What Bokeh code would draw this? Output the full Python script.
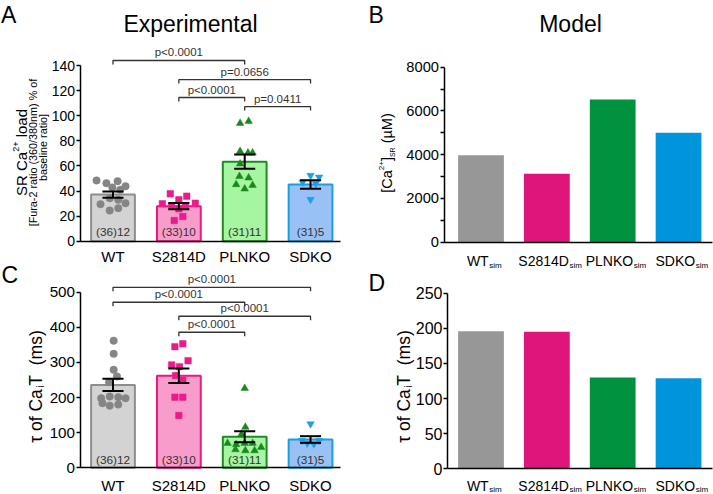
import math
from bokeh.plotting import figure
from bokeh.models import FixedTicker, Range1d, ColumnDataSource, LinearAxis
from bokeh.layouts import row
from bokeh.embed import file_html
from bokeh.resources import INLINE
from bokeh.core.properties import value

FONT = "Liberation Sans"

# ---------------- data ----------------
groups = ["WT", "S2814D", "PLNKO", "SDKO"]
sim_suffix = "sim"
n_labels = ["(36)12", "(33)10", "(31)11", "(31)5"]

# Panel A: SR Ca2+ load (% of baseline ratio), mean +/- SEM and cells
load_mean = [37.2, 27.9, 63.4, 45.2]
load_sem = [2.5, 2.5, 5.7, 3.4]
wt_load = [48.4, 46.2, 47.8, 43.8, 42.8, 41.0, 29.5, 34.3, 33.0, 30.3, 24.5, 26.3]
wt_load_jit = [-0.25, -0.10, 0.07, 0.19, -0.01, 0.11, -0.19, -0.05, 0.08, 0.19, -0.05, 0.08]
s2814d_load = [37.8, 35.9, 33.0, 29.8, 30.3, 27.9, 27.9, 16.5, 19.7, 25.8]
s2814d_load_jit = [-0.13, 0.12, 0.0, -0.25, 0.25, -0.11, 0.10, -0.07, 0.06, 0.0]
plnko_load = [94.0, 95.6, 71.7, 70.4, 70.4, 61.7, 51.6, 50.5, 45.2, 41.7, 44.6]
plnko_load_jit = [-0.07, 0.06, -0.07, 0.05, 0.12, -0.07, -0.08, 0.06, -0.13, 0.0, 0.12]
sdko_load = [52.4, 51.0, 47.0, 46.0, 33.2]
sdko_load_jit = [0.0, 0.13, -0.12, 0.08, 0.0]

# Panel C: tau of CaiT (ms)
tau_mean = [236.0, 262.0, 88.5, 80.5]
tau_sem = [17.5, 20.5, 15.5, 9.5]
wt_tau = [362, 324.5, 279, 260, 243.7, 198, 203, 201, 198, 184, 177, 180]
wt_tau_jit = [0.01, 0.01, 0.01, 0.06, -0.06, -0.18, -0.05, 0.08, 0.19, -0.16, -0.05, 0.08]
s2814d_tau = [345, 353, 293, 288, 305, 201, 201, 149, 263, 249]
s2814d_tau_jit = [-0.06, 0.06, -0.11, 0.01, 0.14, -0.06, 0.06, 0.0, -0.05, 0.06]
plnko_tau = [226.6, 115.6, 70, 66.4, 70, 70, 58.6, 52, 49, 49, 95]
plnko_tau_jit = [0.0, 0.01, -0.26, -0.13, 0.0, 0.12, 0.25, -0.14, 0.01, 0.15, -0.05]
sdko_tau = [125, 77.7, 77.7, 70, 68]
sdko_tau_jit = [0.0, -0.13, 0.13, -0.05, 0.05]

# Panels B and D: model
model_load = [3980, 3130, 6520, 5000]
model_tau = [196, 195, 130, 129]

# significance brackets
load_pairs = [(0, 2), (1, 3), (1, 2), (2, 3)]
load_bracket_y = [144.0, 128.8, 114.5, 107.3]
load_p = ["p<0.0001", "p=0.0656", "p<0.0001", "p=0.0411"]
tau_pairs = [(0, 3), (0, 2), (1, 3), (1, 2)]
tau_bracket_y = [514.0, 471.4, 431.5, 386.0]
tau_p = ["p<0.0001", "p<0.0001", "p<0.0001", "p<0.0001"]

load_ticks = [0, 20, 40, 60, 80, 100, 120, 140]
tau_ticks = [0, 100, 200, 300, 400, 500]
model_load_ticks = [0, 2000, 4000, 6000, 8000]
model_load_minor = [1000, 3000, 5000, 7000]
model_tau_ticks = [0, 50, 100, 150, 200, 250]

# ---------------- styles ----------------
exp_fill = ["#d3d3d3", "#f89dcb", "#a6f5a0", "#99c1f6"]
exp_line = ["#8e8e8e", "#e8197f", "#1d8a24", "#1a9ee0"]
pt_color = ["#858585", "#ec1a8a", "#17891d", "#1aa0e6"]
markers = ["circle", "square", "triangle", "inverted_triangle"]
msizes = [7.5, 6.5, 7.5, 7.5]
model_color = ["#979797", "#e0157c", "#00923f", "#0094dc"]

H = 494
WL, WR = 360, 353

W = {' ': .278, '[': .278, ']': .278, '(': .333, ')': .333, '/': .278, '%': .889, '-': .333,
     '.': .278, '<': .584, '=': .584, '+': .584, 'a': .556, 'b': .556, 'd': .556, 'e': .556,
     'f': .278, 'i': .222, 'l': .222, 'm': .833, 'n': .556, 'o': .556, 'p': .556, 'r': .333,
     's': .5, 't': .278, 'u': .556, 'C': .722, 'D': .722, 'F': .611, 'K': .667, 'L': .556,
     'M': .833, 'N': .722, 'O': .778, 'P': .667, 'R': .722, 'S': .667, 'T': .611, 'W': .944,
     'µ': .576, 'τ': .47}


def text_w(s, size):
    return sum(W.get(ch, .556) for ch in s) * size


class Col:
    """One figure per column: top panel on the default y range, bottom panel on 'bot'."""

    def __init__(self, w, ox, cat0, step, top_spec, bot_spec):
        self.ox, self.step = ox, step
        self.c0 = cat0 - ox
        self.spec = {"default": top_spec, "bot": bot_spec}
        bt, pt = top_spec
        bb, pb = bot_spec
        p = figure(width=w, height=H,
                   x_range=Range1d(-self.c0 / step, (w - self.c0) / step),
                   y_range=Range1d((bt - H) / pt, bt / pt),
                   output_backend="svg", toolbar_location=None,
                   min_border_left=0, min_border_right=0, min_border_top=0,
                   min_border_bottom=0)
        p.extra_y_ranges = {"bot": Range1d((bb - H) / pb, bb / pb)}
        p.grid.visible = False
        p.outline_line_color = None
        p.background_fill_color = "white"
        p.border_fill_color = "white"
        self.p = p

    def xd(self, rx):
        return (rx - self.ox - self.c0) / self.step

    def yd(self, ry, rng="default"):
        b, ppu = self.spec[rng]
        return (b - ry) / ppu

    def ppu(self, rng):
        return self.spec[rng][1]

    def text(self, rx, ry, t, size, align="left", angle=0.0, color="black"):
        # ry is the visual centre of the text
        self.p.text(x=[self.xd(rx)], y=[self.yd(ry)], text=[t], angle=angle,
                    text_align=align, text_baseline="middle", text_font=value(FONT),
                    text_font_size=value(f"{size}px"), text_color=color)

    def vlabel(self, rx, ry, pieces):
        total = sum(text_w(t, s) for t, s, _ in pieces)
        y = ry + total / 2
        for t, s, sh in pieces:
            lead = t[:len(t) - len(t.lstrip())]
            y -= text_w(lead, s)
            self.text(rx + sh, y, t.strip(), s, align="left", angle=math.pi / 2)
            y -= text_w(t.lstrip(), s)

    def sim_labels(self, names, ry, msize, ssize, drop, shift):
        for i, nm in enumerate(names):
            wm, ws = text_w(nm, msize), text_w(sim_suffix, ssize)
            split = self.ox + self.c0 + i * self.step + shift + (wm - ws) / 2
            self.text(split, ry, nm, msize, align="right")
            self.text(split + 0.5, ry + drop, sim_suffix, ssize, align="left")

    def axes(self, rng, axis_x, right_x, yticks, ysize, minor=None, xlabels=None,
             xsize=15, standoff=7):
        p = self.p
        if rng == "default":
            yax, xax = p.yaxis[0], p.xaxis[0]
        else:
            yax = LinearAxis(y_range_name=rng)
            xax = LinearAxis(y_range_name=rng)
            p.add_layout(yax, "left")
            p.add_layout(xax, "below")
        xl, xr = self.xd(axis_x), self.xd(right_x)
        for ax in (xax, yax):
            ax.axis_line_width = 1.5
            ax.axis_line_color = "black"
            ax.major_tick_line_width = 1.5
            ax.major_tick_line_color = "black"
            ax.major_label_text_font = FONT
            ax.major_label_text_color = "black"
            ax.minor_tick_line_color = None
            ax.axis_label = None
        yax.fixed_location = xl
        yax.ticker = FixedTicker(ticks=yticks, minor_ticks=minor or [])
        yax.bounds = (yticks[0], yticks[-1])
        yax.major_tick_out = 4
        yax.major_tick_in = 0
        yax.major_label_standoff = 1
        yax.major_label_text_font_size = f"{ysize}px"
        if minor:
            yax.minor_tick_line_color = "black"
            yax.minor_tick_line_width = 1.5
            yax.minor_tick_out = 4
            yax.minor_tick_in = 0
        xax.fixed_location = 0
        xax.bounds = (xl, xr)
        xax.major_tick_out = 0
        xax.major_tick_in = 0
        xax.major_tick_line_color = None
        if xlabels:
            xax.ticker = FixedTicker(ticks=list(range(len(xlabels))))
            xax.major_label_overrides = {i: s for i, s in enumerate(xlabels)}
            xax.major_label_standoff = standoff
            xax.major_label_text_font_size = f"{xsize}px"
        else:
            xax.ticker = FixedTicker(ticks=[])


def exp_panel(col, rng, means, sems, pts, jits, pairs, by, ptxt, count_y):
    p = col.p
    kw = dict(y_range_name=rng)
    cats = list(range(len(groups)))
    src = ColumnDataSource(dict(x=cats, top=means, fill=exp_fill, line=exp_line))
    p.vbar(x="x", top="top", bottom=0, width=0.665, fill_color="fill", line_color="line",
           line_width=2, source=src, **kw)
    for i, (vals, jit) in enumerate(zip(pts, jits)):
        p.scatter(x=[i + j for j in jit], y=vals, marker=markers[i], size=msizes[i],
                  fill_color=pt_color[i], line_color=pt_color[i], line_width=0.5, **kw)
    lo = [m - s for m, s in zip(means, sems)]
    hi = [m + s for m, s in zip(means, sems)]
    cap = 0.16
    p.segment(x0=cats, y0=lo, x1=cats, y1=hi, line_color="black", line_width=2, **kw)
    p.segment(x0=[c - cap for c in cats], y0=lo, x1=[c + cap for c in cats], y1=lo,
              line_color="black", line_width=2, **kw)
    p.segment(x0=[c - cap for c in cats], y0=hi, x1=[c + cap for c in cats], y1=hi,
              line_color="black", line_width=2, **kw)
    p.text(x=cats, y=[count_y] * len(cats), text=n_labels, text_align="center",
           text_baseline="middle", text_font=value(FONT), text_font_size=value("11.8px"),
           text_color="#333333", **kw)
    ppu = col.ppu(rng)
    d = 4 / ppu
    xs = [[a, a, b, b] for a, b in pairs]
    ys = [[h - d, h, h, h - d] for h in by]
    p.multi_line(xs=xs, ys=ys, line_color="#333333", line_width=1.3, **kw)
    g = 8 / ppu
    p.text(x=[(a + b) / 2 for a, b in pairs], y=[h + g for h in by], text=ptxt,
           text_align="center", text_baseline="middle", text_font=value(FONT),
           text_font_size=value("11.5px"), text_color="#333333", **kw)


# ---------------- left column: A (top) and C (bottom) ----------------
left = Col(WL, 0, 112.5, 65.85, (240.7, 175.7 / 140), (467.3, 175.6 / 500))
left.axes("default", 79.5, 340, load_ticks, 14, xlabels=groups, xsize=15, standoff=7)
left.axes("bot", 79.5, 340, tau_ticks, 15.2, xlabels=groups, xsize=15, standoff=9)
exp_panel(left, "default", load_mean, load_sem,
          [wt_load, s2814d_load, plnko_load, sdko_load],
          [wt_load_jit, s2814d_load_jit, plnko_load_jit, sdko_load_jit],
          load_pairs, load_bracket_y, load_p, 7.0)
exp_panel(left, "bot", tau_mean, tau_sem,
          [wt_tau, s2814d_tau, plnko_tau, sdko_tau],
          [wt_tau_jit, s2814d_tau_jit, plnko_tau_jit, sdko_tau_jit],
          tau_pairs, tau_bracket_y, tau_p, 21.0)
left.text(0.5, 14.2, "A", 23)
left.text(190, 23.5, "Experimental", 23, align="center")
left.vlabel(21, 152, [("SR Ca", 15, 0), ("2+", 9, -6), (" load", 15, 0)])
left.vlabel(32.5, 152, [("[Fura-2 ratio (360/380nm) % of", 10.8, 0)])
left.vlabel(42.5, 147, [("baseline ratio]", 10.8, 0)])
left.text(1, 274.5, "C", 23)
left.vlabel(35, 386, [("τ of Ca", 17.5, 0), ("i", 10, 5), ("T", 17.5, 0), ("  (ms)", 17.5, 0)])

# ---------------- right column: B (top) and D (bottom) ----------------
right = Col(WR, 360, 480.5, 65.85, (241.7, 175.0 / 8000), (468.3, 175.6 / 250))
right.axes("default", 443.5, 711.5, model_load_ticks, 14.7, minor=model_load_minor)
right.axes("bot", 447.0, 711.5, model_tau_ticks, 16)
cats = list(range(len(groups)))
right.p.vbar(x=cats, top=model_load, bottom=0, width=0.695, fill_color=model_color,
             line_color=None)
right.p.vbar(x=cats, top=model_tau, bottom=0, width=0.695, fill_color=model_color,
             line_color=None, y_range_name="bot")
right.text(368, 14.2, "B", 23)
right.text(570, 23.5, "Model", 23, align="center")
right.vlabel(386.7, 152.5, [("[Ca", 14.5, 0), ("2+", 8, -6), ("]", 14.5, 0), ("SR", 7, 5),
                            (" (µM)", 14.5, 0)])
right.sim_labels(groups, 260.5, 14, 8, 4, 3)
right.text(368, 282.5, "D", 23)
right.vlabel(403.3, 386, [("τ of Ca", 17.5, 0), ("i", 10, 5), ("T", 17.5, 0), ("  (ms)", 17.5, 0)])
right.sim_labels(groups, 485, 14, 8, 4, 3)

layout = row(left.p, right.p)
open("out.html", "w").write(file_html(layout, INLINE))
